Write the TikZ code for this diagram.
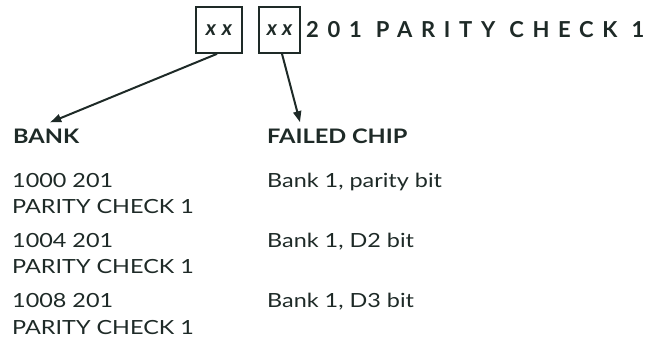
\documentclass[tikz,border=0pt]{standalone}
\usepackage{fontspec}
\setmainfont{Lato}
\usepackage{xcolor}
\definecolor{cInk}{HTML}{1E2A27}
\usetikzlibrary{positioning,arrows.meta}
\tikzset{
  code-box/.style={draw=cInk,line width=1.7pt,minimum height=46pt,
    minimum width=46pt,inner sep=0pt,text=cInk,
    font=\fontsize{21}{22}\selectfont\bfseries\itshape},
  msg-text/.style={anchor=base west,inner sep=0pt,text=cInk,
    font=\fontsize{22}{24}\selectfont\bfseries\addfontfeatures{LetterSpace=39.5}},
  head-text/.style={anchor=base west,inner sep=0pt,text=cInk,
    font=\fontsize{20}{22}\selectfont\bfseries\addfontfeatures{FakeStretch=1.18}},
  row-text/.style={anchor=base west,inner sep=0pt,text=cInk,
    font=\fontsize{19.5}{22}\selectfont\addfontfeatures{FakeStretch=1.2}},
  arrow/.style={-{Triangle[length=11pt,width=8pt]},line width=2pt,draw=cInk},
}
\begin{document}
\begin{tikzpicture}[x=1pt,y=-1pt]
  \useasboundingbox (0,0) rectangle (663,341);
  % printed message with the two fields boxed
  \node[code-box] (bA) at (219,30) {\raisebox{-3pt}{x\hspace{6pt}x}};
  \node[code-box,minimum width=41pt] (bB) at (279.5,30) {\raisebox{-3pt}{x\hspace{5pt}x}};
  \node[msg-text] (msg) at (306,37) {201 PARITY CHECK 1};
  % column heads
  \node[head-text] (bank) at (13,143) {BANK};
  \node[head-text] (failed) at (267,143) {FAILED CHIP};
  \draw[arrow] ([xshift=-2pt]bA.south) -- ([xshift=4pt,yshift=6pt]bank.north);
  \draw[arrow] ([xshift=2.5pt]bB.south) -- ([xshift=33pt,yshift=6pt]failed.north west);
  % table rows
  \node[row-text] (r1a) at (12,187) {1000 201};
  \node[row-text] (r1b) at (12,213) {PARITY CHECK 1};
  \node[row-text] (r1c) at (267,187) {Bank 1, parity bit};
  \node[row-text] (r2a) at (12,247) {1004 201};
  \node[row-text] (r2b) at (12,273) {PARITY CHECK 1};
  \node[row-text] (r2c) at (267,247) {Bank 1, D2 bit};
  \node[row-text] (r3a) at (12,307) {1008 201};
  \node[row-text] (r3b) at (12,334) {PARITY CHECK 1};
  \node[row-text] (r3c) at (267,307) {Bank 1, D3 bit};
\end{tikzpicture}
\end{document}
